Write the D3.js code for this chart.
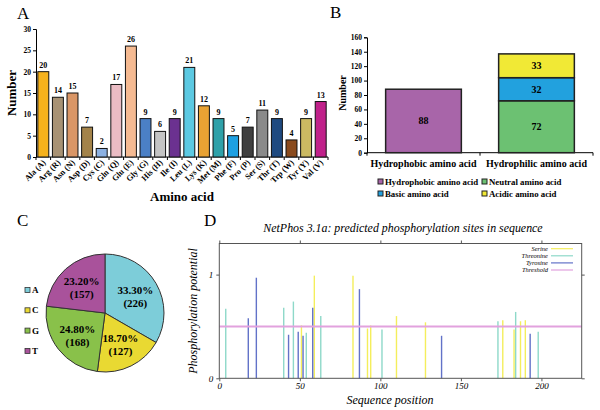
<!DOCTYPE html>
<html><head><meta charset="utf-8">
<script src="https://cdn.jsdelivr.net/npm/d3@7/dist/d3.min.js"></script>
<style>
body{margin:0;background:#fff;}
svg{display:block;}
text{font-family:"Liberation Serif","Times New Roman",serif;fill:#000;}
</style></head>
<body>
<svg id="chart" width="600" height="410"></svg>
<script>
// ---------- Panel A data ----------
const aaCategories = ["Ala (A)","Arg (R)","Asn (N)","Asp (D)","Cys (C)","Gln (Q)","Glu (E)","Gly (G)","His (H)","Ile (I)","Leu (L)","Lys (K)","Met (M)","Phe (F)","Pro (P)","Ser (S)","Thr (T)","Trp (W)","Tyr (Y)","Val (V)"];
const aaCounts = [20,14,15,7,2,17,26,9,6,9,21,12,9,5,7,11,9,4,9,13];
const aaColors = ["#F6B21C","#A89274","#DA9666","#A3834A","#8CB1E2","#EBBCC4","#F5BA92","#4B80C6","#C4C4C4","#6B3190","#5CC9E2","#E9A233","#2FA1A9","#1EA0E2","#3F3F3F","#8A8A8A","#1F4A80","#8A4A1C","#CBBA62","#C0218A"];
const aaTicks = [0,5,10,15,20,25,30];

// ---------- Panel B data ----------
const groupCategories = ["Hydrophobic amino acid","Hydrophilic amino acid"];
const hydrophobicVals = [88,0];
const neutralVals = [0,72];
const basicVals = [0,32];
const acidicVals = [0,33];
const groupSeries = ["Hydrophobic amino acid","Neutral amino acid","Basic amino acid","Acidic amino acid"];
const groupColors = ["#A865A9","#6CC172","#22A1DE","#F1E935"];
const groupTicks = [0,20,40,60,80,100,120,140,160];

// ---------- Panel C data ----------
const baseLabels = ["A","C","G","T"];
const baseCounts = [226,127,168,157];
const basePercents = ["33.30%","18.70%","24.80%","23.20%"];
const baseColors = ["#7DCDD9","#E9D932","#89C14A","#A9529B"];

// ---------- Panel D data ----------
const serinePos = [51,59,83,92,94,110,128,176,183,187,190];
const serineVal = [0.51,0.99,0.99,0.48,0.51,0.60,0.54,0.56,0.47,0.55,0.56];
const threoninePos = [4,40,46,54,63,101,173,184,198];
const threonineVal = [0.67,0.68,0.74,0.44,0.60,0.47,0.55,0.64,0.45];
const tyrosinePos = [18,23,43,49,52,58,87,138,193];
const tyrosineVal = [0.58,0.97,0.42,0.45,0.41,0.68,0.86,0.41,0.43];
const thresholdVal = 0.5;
const phosLegend = ["Serine","Threonine","Tyrosine","Threshold"];
const phosColors = ["#F4EE5C","#8ED9C9","#6272C8","#E2A2DE"];
const posTicks = [0,50,100,150,200];
const potTicks = [0,1];

const svg = d3.select("#chart");
const SERIF = '"Liberation Serif","Times New Roman",serif';
const SANS = '"Liberation Sans",Arial,sans-serif';

function panelLetter(t,x,y){
  svg.append("text").attr("x",x).attr("y",y).attr("font-size",17).text(t);
}

// ================= Panel A =================
(function(){
  const g = svg.append("g");
  panelLetter("A",17,19);
  const x = d3.scaleBand(aaCategories,[36,328]).paddingInner(0.25).paddingOuter(0.125);
  const y = d3.scaleLinear([0,30],[157,29]);
  const ya = g.append("g").attr("transform","translate(36,0)")
    .call(d3.axisLeft(y).tickValues(aaTicks).tickSize(3).tickPadding(2));
  ya.selectAll("text").attr("font-family",SERIF).attr("font-weight","bold").attr("font-size",7.5).attr("fill","#000");
  ya.selectAll("line,path").attr("stroke","#000");
  g.append("line").attr("x1",36).attr("x2",328).attr("y1",y(0)).attr("y2",y(0)).attr("stroke","#000");
  const step = x.step();
  const bounds = aaCategories.map(c=>x(c)-step*x.paddingInner()/2).concat([x(aaCategories[aaCategories.length-1])+x.bandwidth()+step*x.paddingInner()/2]);
  g.selectAll(".tkA").data(bounds).join("line").attr("x1",d=>d).attr("x2",d=>d)
    .attr("y1",y(0)).attr("y2",y(0)+3).attr("stroke","#000");
  g.selectAll(".barA").data(aaCategories).join("rect")
    .attr("x",d=>x(d)).attr("width",x.bandwidth())
    .attr("y",(d,i)=>y(aaCounts[i])).attr("height",(d,i)=>y(0)-y(aaCounts[i]))
    .attr("fill",(d,i)=>aaColors[i]).attr("stroke","#111").attr("stroke-width",1);
  g.selectAll(".valA").data(aaCategories).join("text")
    .attr("x",d=>x(d)+x.bandwidth()/2).attr("y",(d,i)=>y(aaCounts[i])-4)
    .attr("text-anchor","middle").attr("font-weight","bold").attr("font-size",8).attr("fill","#000")
    .text((d,i)=>aaCounts[i]);
  g.selectAll(".labA").data(aaCategories).join("text")
    .attr("transform",d=>`translate(${x(d)+x.bandwidth()/2+3},${y(0)+6}) rotate(-45)`)
    .attr("text-anchor","end").attr("font-weight","bold").attr("font-size",8.3)
    .text(d=>d);
  g.append("text").attr("x",182).attr("y",201).attr("text-anchor","middle")
    .attr("font-weight","bold").attr("font-size",13).text("Amino acid");
  g.append("text").attr("transform","translate(16,93) rotate(-90)").attr("text-anchor","middle")
    .attr("font-weight","bold").attr("font-size",13).text("Number");
})();

// ================= Panel B =================
(function(){
  const g = svg.append("g");
  panelLetter("B",330,18);
  const x = d3.scaleBand(groupCategories,[367,593]).paddingInner(0.33).paddingOuter(0.165);
  const y = d3.scaleLinear([0,160],[152.7,37.3]);
  const ya = g.append("g").attr("transform","translate(367,0)")
    .call(d3.axisLeft(y).tickValues(groupTicks).tickSize(3).tickPadding(2));
  ya.selectAll("text").attr("font-family",SERIF).attr("font-weight","bold").attr("font-size",7.5).attr("fill","#000");
  ya.selectAll("line,path").attr("stroke","#000");
  g.append("line").attr("x1",367).attr("x2",593).attr("y1",y(0)).attr("y2",y(0)).attr("stroke","#000");
  const step = x.step();
  const bounds = [367, x(groupCategories[0])+x.bandwidth()+step*x.paddingInner()/2, 593];
  g.selectAll(".tkB").data(bounds).join("line").attr("x1",d=>d).attr("x2",d=>d)
    .attr("y1",y(0)).attr("y2",y(0)+3).attr("stroke","#000");
  const table = groupCategories.map((c,i)=>({cat:c,
    "Hydrophobic amino acid":hydrophobicVals[i],"Neutral amino acid":neutralVals[i],
    "Basic amino acid":basicVals[i],"Acidic amino acid":acidicVals[i]}));
  const stack = d3.stack().keys(groupSeries)(table);
  stack.forEach((s,si)=>{
    s.forEach(seg=>{
      const v = seg[1]-seg[0];
      if(v<=0) return;
      g.append("rect").attr("x",x(seg.data.cat)).attr("width",x.bandwidth())
        .attr("y",y(seg[1])).attr("height",y(seg[0])-y(seg[1]))
        .attr("fill",groupColors[si]).attr("stroke","#222").attr("stroke-width",1.5);
      g.append("text").attr("x",x(seg.data.cat)+x.bandwidth()/2).attr("y",(y(seg[0])+y(seg[1]))/2+3.5)
        .attr("text-anchor","middle").attr("font-family",SANS).attr("font-weight","bold").attr("font-size",10)
        .text(v);
    });
  });
  g.selectAll(".labB").data(groupCategories).join("text")
    .attr("x",d=>x(d)+x.bandwidth()/2).attr("y",167).attr("text-anchor","middle")
    .attr("font-weight","bold").attr("font-size",10).text(d=>d);
  g.append("text").attr("transform","translate(346,93) rotate(-90)").attr("text-anchor","middle")
    .attr("font-weight","bold").attr("font-size",10).text("Number");
  const lx = [378,482], ly=[181.5,193.5];
  groupSeries.forEach((s,i)=>{
    const cx = lx[i%2], cy = ly[Math.floor(i/2)];
    g.append("rect").attr("x",cx).attr("y",cy-2.5).attr("width",5).attr("height",5)
      .attr("fill",groupColors[i]).attr("stroke","#222").attr("stroke-width",1);
    g.append("text").attr("x",cx+7).attr("y",cy+3).attr("font-weight","bold").attr("font-size",8.8).text(s);
  });
})();

// ================= Panel C =================
(function(){
  const g = svg.append("g");
  panelLetter("C",17,226);
  const cx=105, cy=313, r=59;
  const pie = d3.pie().sort(null).value(d=>d)(baseCounts);
  const arc = d3.arc().innerRadius(0).outerRadius(r);
  const labArc = d3.arc().innerRadius(35).outerRadius(35);
  const pg = g.append("g").attr("transform",`translate(${cx},${cy})`);
  pg.selectAll("path").data(pie).join("path").attr("d",arc)
    .attr("fill",(d,i)=>baseColors[i]).attr("stroke","#333").attr("stroke-width",1);
  pg.selectAll(".pl").data(pie).join("text")
    .attr("transform",d=>`translate(${labArc.centroid(d)})`)
    .attr("text-anchor","middle").attr("font-weight","bold").attr("font-size",11)
    .each(function(d,i){
      d3.select(this).append("tspan").attr("x",0).attr("y",-2).text(basePercents[i]);
      d3.select(this).append("tspan").attr("x",0).attr("y",11).text("("+baseCounts[i]+")");
    });
  baseLabels.forEach((b,i)=>{
    const yy = 290 + i*20.3;
    g.append("rect").attr("x",25).attr("y",yy-2.5).attr("width",5).attr("height",5)
      .attr("fill",baseColors[i]).attr("stroke","#333").attr("stroke-width",0.8);
    g.append("text").attr("x",32).attr("y",yy+3).attr("font-weight","bold").attr("font-size",9).text(b);
  });
})();

// ================= Panel D =================
(function(){
  const g = svg.append("g");
  panelLetter("D",204,226);
  const x = d3.scaleLinear([0,225],[219.3,581.7]);
  const y = d3.scaleLinear([0,1.3],[378.3,243.5]);
  g.append("text").attr("x",403).attr("y",232).attr("text-anchor","middle")
    .attr("font-style","italic").attr("font-size",11.9)
    .text("NetPhos 3.1a: predicted phosphorylation sites in sequence");
  const series = [
    {pos:serinePos,val:serineVal,c:phosColors[0]},
    {pos:threoninePos,val:threonineVal,c:phosColors[1]},
    {pos:tyrosinePos,val:tyrosineVal,c:phosColors[2]}];
  series.forEach(s=>{
    g.selectAll(null).data(s.pos).join("line")
      .attr("x1",d=>x(d)).attr("x2",d=>x(d)).attr("y1",y(0))
      .attr("y2",(d,i)=>y(s.val[i])).attr("stroke",s.c).attr("stroke-width",1.4);
  });
  g.append("line").attr("x1",x(0)).attr("x2",x(225)).attr("y1",y(thresholdVal)).attr("y2",y(thresholdVal))
    .attr("stroke",phosColors[3]).attr("stroke-width",2);
  g.append("rect").attr("x",x(0)).attr("y",y(1.3)).attr("width",x(225)-x(0)).attr("height",y(0)-y(1.3))
    .attr("fill","none").attr("stroke","#555").attr("stroke-width",1);
  const styleAx = sel=>{sel.select(".domain").remove();sel.selectAll("line").attr("stroke","#555");
    sel.selectAll("text").attr("font-family",SERIF).attr("font-style","italic").attr("font-size",9).attr("fill","#000");};
  g.append("g").attr("transform",`translate(0,${y(0)})`).call(d3.axisBottom(x).tickValues(posTicks).tickSize(3).tickPadding(1.5)).call(styleAx);
  g.append("g").attr("transform",`translate(0,${y(1.3)})`).call(d3.axisTop(x).tickValues(posTicks).tickSize(3).tickFormat("")).call(styleAx);
  g.append("g").attr("transform",`translate(${x(0)},0)`).call(d3.axisLeft(y).tickValues(potTicks).tickSize(3).tickPadding(3).tickFormat(d3.format("d"))).call(styleAx);
  g.append("g").attr("transform",`translate(${x(225)},0)`).call(d3.axisRight(y).tickValues(potTicks).tickSize(3).tickFormat("")).call(styleAx);
  g.append("text").attr("x",390).attr("y",403.5).attr("text-anchor","middle")
    .attr("font-style","italic").attr("font-size",12).text("Sequence position");
  g.append("text").attr("transform","translate(197,311) rotate(-90)").attr("text-anchor","middle")
    .attr("font-style","italic").attr("font-size",12).text("Phosphorylation potential");
  phosLegend.forEach((t,i)=>{
    const yy = 248.7 + i*7.1;
    g.append("text").attr("x",548).attr("y",yy+2).attr("text-anchor","end")
      .attr("font-style","italic").attr("font-size",6.5).text(t);
    g.append("line").attr("x1",551).attr("x2",573).attr("y1",yy).attr("y2",yy)
      .attr("stroke",phosColors[i]).attr("stroke-width",1.2);
  });
})();
</script>
</body></html>
